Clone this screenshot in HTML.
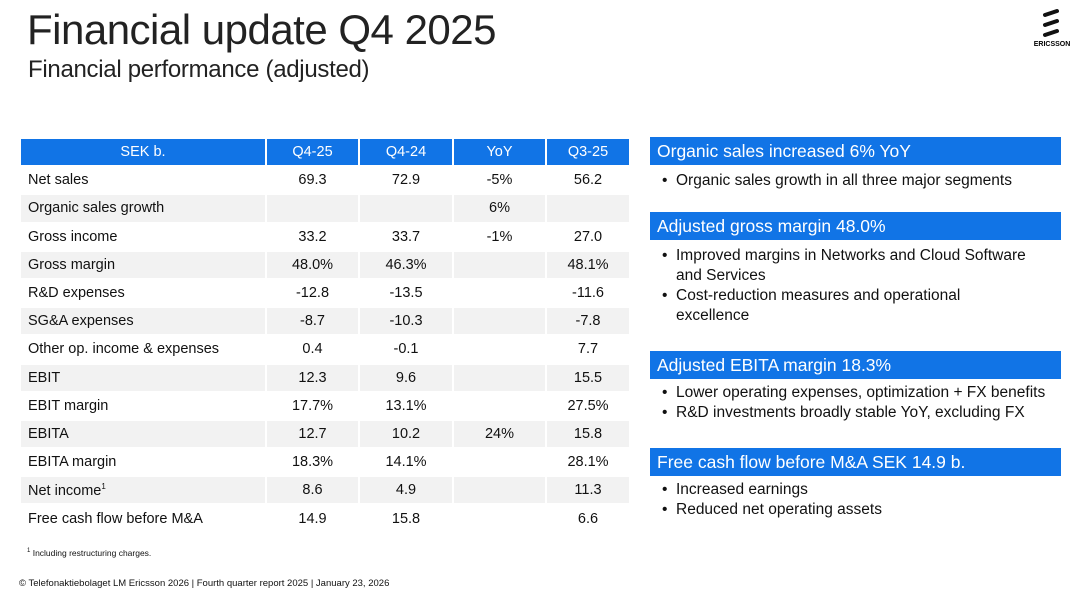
<!DOCTYPE html>
<html><head><meta charset="utf-8"><style>
*{margin:0;padding:0;box-sizing:border-box}
body{width:1080px;height:596px;background:#fff;font-family:"Liberation Sans",sans-serif;color:#111;position:relative;overflow:hidden}
.abs{position:absolute}
#title{left:27px;top:6px;font-size:42px;letter-spacing:-0.5px;color:#222;white-space:nowrap}
#subtitle{left:28px;top:56px;font-size:24px;letter-spacing:-0.3px;white-space:nowrap;color:#222}
table{position:absolute;left:19px;top:137px;border-collapse:collapse;font-size:14.5px}
td,th{height:28.2px;border:2px solid #fff;padding:0}
th{background:#1174e6;color:#fff;font-weight:normal;text-align:center}
td{text-align:center}
td.l{text-align:left;padding-left:7px}
tr.g td{background:#f2f2f2}
.ph{position:absolute;left:650px;width:411px;height:28px;background:#1174e6;color:#fff;font-size:17.5px;padding-left:7px;line-height:28px;white-space:nowrap}
.bl{position:absolute;left:662px;font-size:15.5px;line-height:20px;width:400px;white-space:nowrap}
.bl div{position:relative;padding-left:14px}
.bl div::before{content:"•";position:absolute;left:0}
#foot{left:27px;top:548px;font-size:8.5px}
#copy{left:19px;top:578px;font-size:9.5px;white-space:nowrap}
</style></head><body>
<div id="title" class="abs">Financial update Q4 2025</div>
<div id="subtitle" class="abs">Financial performance (adjusted)</div>
<div class="abs" style="left:1030px;top:8px;width:44px;height:40px">
<svg width="44" height="40" viewBox="0 0 44 40"><g stroke="#111" stroke-width="4" stroke-linecap="round"><line x1="15" y1="7" x2="27" y2="3"/><line x1="15" y1="17" x2="27" y2="13"/><line x1="15" y1="27" x2="27" y2="23"/></g>
<text x="22" y="38" font-size="7" font-weight="bold" text-anchor="middle" font-family="Liberation Sans">ERICSSON</text></svg></div>
<table>
<colgroup><col style="width:246px"><col style="width:93px"><col style="width:94px"><col style="width:93px"><col style="width:84px"></colgroup>
<tr><th>SEK b.</th><th>Q4-25</th><th>Q4-24</th><th>YoY</th><th>Q3-25</th></tr>
<tr><td class="l">Net sales</td><td>69.3</td><td>72.9</td><td>-5%</td><td>56.2</td></tr>
<tr class="g"><td class="l">Organic sales growth</td><td></td><td></td><td>6%</td><td></td></tr>
<tr><td class="l">Gross income</td><td>33.2</td><td>33.7</td><td>-1%</td><td>27.0</td></tr>
<tr class="g"><td class="l">Gross margin</td><td>48.0%</td><td>46.3%</td><td></td><td>48.1%</td></tr>
<tr><td class="l">R&amp;D expenses</td><td>-12.8</td><td>-13.5</td><td></td><td>-11.6</td></tr>
<tr class="g"><td class="l">SG&amp;A expenses</td><td>-8.7</td><td>-10.3</td><td></td><td>-7.8</td></tr>
<tr><td class="l">Other op. income &amp; expenses</td><td>0.4</td><td>-0.1</td><td></td><td>7.7</td></tr>
<tr class="g"><td class="l">EBIT</td><td>12.3</td><td>9.6</td><td></td><td>15.5</td></tr>
<tr><td class="l">EBIT margin</td><td>17.7%</td><td>13.1%</td><td></td><td>27.5%</td></tr>
<tr class="g"><td class="l">EBITA</td><td>12.7</td><td>10.2</td><td>24%</td><td>15.8</td></tr>
<tr><td class="l">EBITA margin</td><td>18.3%</td><td>14.1%</td><td></td><td>28.1%</td></tr>
<tr class="g"><td class="l">Net income<sup style="font-size:8px">1</sup></td><td>8.6</td><td>4.9</td><td></td><td>11.3</td></tr>
<tr><td class="l">Free cash flow before M&amp;A</td><td>14.9</td><td>15.8</td><td></td><td>6.6</td></tr>
</table>
<div class="ph" style="top:137px">Organic sales increased 6% YoY</div>
<div class="bl" style="top:171px"><div>Organic sales growth in all three major segments</div></div>
<div class="ph" style="top:212px">Adjusted gross margin 48.0%</div>
<div class="bl" style="top:246px"><div>Improved margins in Networks and Cloud Software<br>and Services</div><div>Cost-reduction measures and operational<br>excellence</div></div>
<div class="ph" style="top:351px">Adjusted EBITA margin 18.3%</div>
<div class="bl" style="top:383px;width:410px"><div>Lower operating expenses, optimization + FX benefits</div><div>R&amp;D investments broadly stable YoY, excluding FX</div></div>
<div class="ph" style="top:448px">Free cash flow before M&amp;A SEK 14.9 b.</div>
<div class="bl" style="top:480px"><div>Increased earnings</div><div>Reduced net operating assets</div></div>
<div id="foot" class="abs"><sup style="font-size:6px">1</sup> Including restructuring charges.</div>
<div id="copy" class="abs">© Telefonaktiebolaget LM Ericsson 2026 | Fourth quarter report 2025 | January 23, 2026</div>
</body></html>
